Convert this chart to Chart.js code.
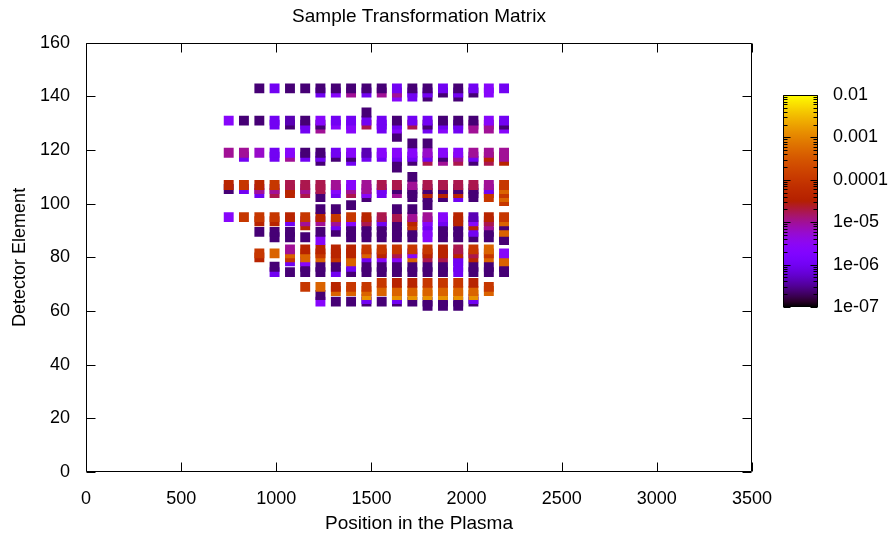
<!DOCTYPE html>
<html>
<head>
<meta charset="utf-8">
<script src="https://cdn.jsdelivr.net/npm/chart.js@4.4.1/dist/chart.umd.min.js"></script>
<style>
  html, body { margin: 0; padding: 0; background: #fff; }
  #wrap { position: relative; width: 894px; height: 538px; }
  #chart { position: absolute; left: 0; top: 0; }
  #cbar { position: absolute; left: 783px; top: 68px; }
</style>
</head>
<body>
<div id="wrap">
  <canvas id="chart" width="894" height="538"></canvas>
  <canvas id="cbar" width="111" height="266"></canvas>
</div>
<script>
// positions in the plasma (one column of detector samples each)
const colX = [750, 830, 911, 991, 1072, 1152, 1232, 1313, 1393, 1474, 1554, 1634, 1715, 1795, 1876, 1956, 2036, 2117, 2197];

// matrix values, one array per detector element row (null = no sample)
const n = null;
const r143   = [n, n, 2.4e-7, 1e-6, 2.4e-7, 2.4e-7, 2.4e-7, 2.4e-7, 2.4e-7, 2.4e-7, 2.4e-7, 1e-6, 2.4e-7, 2.4e-7, 1e-6, 2.4e-7, 1e-6, 2.5e-6, 1e-6];
const r141_5 = [n, n, n, n, n, n, 1e-6, 2.5e-6, 1e-5, 1e-6, 1e-5, 1e-5, 1e-6, 1e-6, 2.4e-7, 1e-6, 2.4e-7, 2.5e-6, n];
const r140   = [n, n, n, n, n, n, n, n, n, n, n, 2.5e-6, 1e-6, 2.4e-7, n, 2.4e-7, n, n, n];

const r134   = [n, n, n, n, n, n, n, n, n, 2.4e-7, n, n, n, n, n, n, n, n, n];
const r131   = [2.5e-6, 2.4e-7, 2.4e-7, 1e-6, 4.2e-7, 2.4e-7, 2.5e-6, 1e-6, 1e-6, 1e-6, 1e-6, 2.4e-7, 1e-6, 1e-6, 2.4e-7, 2.4e-7, 2.4e-7, 2.5e-6, 1e-6];
const r129_5 = [n, n, n, 1e-6, 2.4e-7, 1e-6, 2.4e-7, 2.5e-6, 2.5e-6, 1.8e-5, 1e-6, 1e-6, 1.8e-5, 2.4e-7, 1e-6, 1e-6, 1e-5, 1e-5, 2.4e-7];
const r128   = [n, n, n, n, n, 1e-6, 1e-5, n, 2.5e-6, n, 1e-6, 2.5e-6, n, 1e-6, 2.5e-6, 1e-6, 1e-5, 1e-5, 2.5e-6];
const r125   = [n, n, n, n, n, n, n, n, n, n, n, 2.4e-7, n, n, n, n, n, n, n];
const r122_5 = [n, n, n, n, n, n, n, n, n, n, n, n, 2.4e-7, 2.4e-7, n, n, n, n, n];

const r119   = [1e-5, 1e-5, 6e-6, 1e-6, 2.5e-6, 2.4e-7, 2.4e-7, 1e-6, 2.5e-6, 4.2e-7, 2.5e-6, 2.5e-6, 2.5e-6, 6e-6, 2.5e-6, 2.5e-6, 1e-5, 1e-5, 1e-5];
const r117_5 = [n, 1e-6, n, 1e-6, 1e-5, 1e-6, 1e-6, 2.4e-7, 2.4e-7, 1e-6, 1e-6, 1e-6, 1e-6, 1e-6, 2.4e-7, 1e-5, 1e-6, 4e-5, 1e-5];
const r116   = [n, n, n, n, n, n, 2.4e-7, n, 1e-6, n, n, 2.4e-7, 2.4e-7, 1.8e-5, 1e-5, 1.8e-5, 2.4e-7, 1.8e-5, 4e-5];
const r113_5 = [n, n, n, n, n, n, n, n, n, n, n, 2.4e-7, n, n, n, n, n, n, n];
const r110   = [n, n, n, n, n, n, n, n, n, n, n, n, 2.4e-7, n, n, n, n, n, n];

const r107   = [4e-5, 1e-4, 4e-5, 1e-4, 1.8e-5, 1.8e-5, 1.8e-5, 1e-5, 2.5e-6, 1e-5, 1.8e-5, 1.8e-5, 1e-5, 1.8e-5, 1.8e-5, 1.8e-5, 1.8e-5, 1e-5, 1e-4];
const r105_5 = [2.4e-7, 1e-6, 1e-5, 1e-5, 4e-5, 1e-5, 1.8e-5, 2.5e-6, 1e-5, 1e-5, 1e-6, 2.4e-7, 2.4e-7, 2.4e-7, 2.4e-7, 2.4e-7, 2.4e-7, 1e-6, 4.5e-4];
const r104   = [n, n, 1e-6, 1.8e-5, 4e-5, 1.8e-5, n, 1e-6, 1.8e-5, 2.5e-6, 1e-6, 1e-5, 2.4e-7, 4e-5, 4e-5, 4e-5, 2.4e-7, 1e-4, 1e-4];
const r102_5 = [n, n, n, n, n, n, 2.4e-7, n, n, 2.4e-7, n, n, 2.4e-7, 2.4e-7, 2.4e-7, 1e-6, 2.4e-7, 1e-4, 4.5e-4];
const r101   = [n, n, n, n, n, n, n, n, n, n, n, n, n, n, n, n, n, n, 1e-4];
const r99_5  = [n, n, n, n, n, n, n, n, 2.4e-7, n, n, n, n, 2.4e-7, n, n, n, n, n];
const r98    = [n, n, n, n, n, n, 2.4e-7, 2.4e-7, n, n, n, 2.4e-7, 2.4e-7, n, n, n, n, n, n];

const r95    = [2.5e-6, 1e-4, 1e-4, 1e-4, 4e-5, 1e-4, 4e-5, 1e-4, 1e-4, 4e-5, 1.8e-5, 1.8e-5, 1e-5, 1e-5, 2.5e-6, 4e-5, 4.2e-7, 4e-5, 1e-4];
const r93_5  = [n, n, 4e-5, 4e-5, 1e-6, 1e-5, 1e-5, 1e-5, 2.5e-6, 1.8e-5, 1e-6, 2.4e-7, 4e-5, 2.5e-6, 1e-6, 4e-5, 2.5e-6, 1.8e-5, 4.5e-4];
const r92    = [n, n, n, n, n, 4e-5, n, 1e-6, 2.4e-7, 2.4e-7, 2.4e-7, 2.4e-7, 1e-4, 1e-6, 2.4e-7, 2.4e-7, 4e-5, 1e-5, 2.4e-7];
const r89_5  = [n, n, 2.4e-7, 2.4e-7, 2.4e-7, n, 2.4e-7, 2.4e-7, 2.4e-7, 2.4e-7, 2.4e-7, 2.4e-7, 2.4e-7, 2.5e-6, 2.4e-7, 2.4e-7, 1e-6, 2.4e-7, 4.5e-4];
const r87_5  = [n, n, n, 2.4e-7, 2.4e-7, 2.4e-7, n, n, 2.4e-7, 2.4e-7, 2.4e-7, 2.4e-7, 2.4e-7, 2.5e-6, 2.4e-7, 2.4e-7, 2.4e-7, 2.4e-7, 2.4e-7];
const r86_5  = [n, n, n, n, n, n, 2.5e-6, n, n, n, n, n, n, n, n, n, n, n, 2.4e-7];

const r83    = [n, n, n, n, 1e-5, 4e-5, 4e-5, 4e-5, 4e-5, 1e-4, 1e-4, 1e-4, 1e-4, 1e-4, 4e-5, 1.8e-5, 1e-4, 4.5e-4, n];
const r81_5  = [n, n, 1e-4, 4.5e-4, 4.5e-4, 4.5e-4, 1e-4, 4e-5, 4e-5, 4.5e-4, 4e-5, 1.8e-5, 2.5e-6, 4e-5, 4e-5, 4e-5, 1.8e-5, 1e-4, 2.5e-6];
const r80    = [n, n, 4e-5, n, 1e-4, 4.5e-4, 4.5e-4, 1e-4, 4.5e-4, 1e-6, 2.5e-6, 2.5e-6, 4.5e-4, 1.8e-5, 1.8e-5, 1e-6, 4e-5, 4.5e-4, 4.5e-4];
const r78_5  = [n, n, n, n, 1e-6, 2.5e-6, n, 2.4e-7, 4.5e-4, n, n, n, n, n, n, 1e-6, n, n, 4.5e-4];
const r76_5  = [n, n, n, 2.4e-7, n, 2.4e-7, 2.4e-7, 2.4e-7, 1e-6, 2.4e-7, 2.4e-7, 2.4e-7, 2.4e-7, 2.4e-7, 2.4e-7, 1e-6, 2.4e-7, 2.4e-7, 2.4e-7];
const r74_5  = [n, n, n, 1e-6, 2.4e-7, 2.4e-7, 2.4e-7, 1e-6, 2.4e-7, 2.4e-7, 2.4e-7, 2.4e-7, 2.4e-7, 2.4e-7, 2.4e-7, 1e-6, 2.4e-7, 2.4e-7, 2.4e-7];

const r70_5  = [n, n, n, n, n, n, n, n, n, n, 1e-4, 4e-5, 4e-5, 1e-4, 1e-4, 1e-4, 4e-5, n, n];
const r69    = [n, n, n, n, n, 1e-4, 4.5e-4, 4e-5, 1e-4, 1e-4, n, n, n, n, n, n, n, 1e-4, n];
const r67_5  = [n, n, n, n, n, n, n, 4.5e-4, 4.5e-4, 4.5e-4, 4.5e-4, 4.5e-4, 4.5e-4, 4.5e-4, 4.5e-4, 4.5e-4, 4.5e-4, 4.5e-4, n];
const r66    = [n, n, n, n, n, n, 2.4e-7, n, n, 1.4e-3, n, 1.4e-3, 1.4e-3, 1.4e-3, 1.4e-3, 1.4e-3, 1.4e-3, n, n];
const r64_5  = [n, n, n, n, n, n, n, n, n, 1e-6, n, 1e-6, n, n, n, n, 1e-6, n, n];
const r63_5  = [n, n, n, n, n, n, 2.5e-6, 2.4e-7, 2.4e-7, 2.4e-7, 2.4e-7, 2.4e-7, 2.4e-7, 2.4e-7, 2.4e-7, 2.4e-7, 2.4e-7, n, n];
const r62    = [n, n, n, n, n, n, n, n, n, n, n, n, n, 2.4e-7, 2.4e-7, 2.4e-7, n, n, n];

// detector element of each row, in drawing order (later rows cover earlier ones)
const rowY = [62, 63.5, 64.5, 66, 67.5, 69, 70.5, 74.5, 76.5, 78.5, 80, 81.5, 83,
  86.5, 87.5, 89.5, 92, 93.5, 95, 98, 99.5, 101, 102.5, 104, 105.5, 107,
  110, 113.5, 116, 117.5, 119, 122.5, 125, 128, 129.5, 131, 134, 140, 141.5, 143];
const rowVals = [r62, r63_5, r64_5, r66, r67_5, r69, r70_5, r74_5, r76_5, r78_5, r80, r81_5, r83,
  r86_5, r87_5, r89_5, r92, r93_5, r95, r98, r99_5, r101, r102_5, r104, r105_5, r107,
  r110, r113_5, r116, r117_5, r119, r122_5, r125, r128, r129_5, r131, r134, r140, r141_5, r143];

const xTicks = [0, 500, 1000, 1500, 2000, 2500, 3000, 3500];
const yTicks = [0, 20, 40, 60, 80, 100, 120, 140, 160];
const cbMin = 1e-7, cbMax = 1e-2;
const cbTicks = [1e-7, 1e-6, 1e-5, 1e-4, 1e-3, 1e-2];
const cbLabels = ['1e-07', '1e-06', '1e-05', '0.0001', '0.001', '0.01'];

const FONT = '"Liberation Sans", Arial, sans-serif';

// gnuplot default pm3d palette (rgbformulae 7,5,15)
function paletteT(t) {
  t = Math.min(1, Math.max(0, t));
  const r = Math.sqrt(t), g = t * t * t, b = Math.max(0, Math.sin(2 * Math.PI * t));
  return `rgb(${Math.round(r * 255)},${Math.round(g * 255)},${Math.round(b * 255)})`;
}
function palette(v) {
  return paletteT((Math.log10(v) - Math.log10(cbMin)) / (Math.log10(cbMax) - Math.log10(cbMin)));
}

const points = [];
rowVals.forEach((vals, i) => {
  vals.forEach((v, k) => {
    if (v !== null) points.push({ x: colX[k], y: rowY[i], v: v });
  });
});

const framePlugin = {
  id: 'frame',
  afterDraw(chart) {
    const { ctx, chartArea: a, scales } = chart;
    const L = Math.round(a.left) + 0.5, R = Math.round(a.right) - 0.5;
    const T = Math.round(a.top) + 0.5, B = Math.round(a.bottom) - 0.5;
    ctx.save();
    ctx.strokeStyle = '#000';
    ctx.lineWidth = 1;
    ctx.beginPath();
    ctx.rect(L, T, R - L, B - T);
    xTicks.forEach(v => {
      const px = Math.round(scales.x.getPixelForValue(v)) + 0.5;
      ctx.moveTo(px, B); ctx.lineTo(px, B - 9);
      ctx.moveTo(px, T); ctx.lineTo(px, T + 9);
    });
    yTicks.forEach(v => {
      const py = Math.round(scales.y.getPixelForValue(v)) + 0.5;
      ctx.moveTo(L, py); ctx.lineTo(L + 9, py);
      ctx.moveTo(R, py); ctx.lineTo(R - 9, py);
    });
    ctx.stroke();
    ctx.restore();
  }
};

new Chart(document.getElementById('chart'), {
  type: 'scatter',
  data: {
    datasets: [{
      data: points,
      pointStyle: 'rect',
      pointRadius: 7,
      borderWidth: 0,
      backgroundColor: c => (c.raw ? palette(c.raw.v) : '#000')
    }]
  },
  options: {
    responsive: false,
    animation: false,
    events: [],
    layout: { padding: { left: 0, right: 142, top: 0, bottom: 0 } },
    plugins: {
      legend: { display: false },
      tooltip: { enabled: false },
      title: {
        display: true,
        fullSize: false,
        text: 'Sample Transformation Matrix',
        color: '#000',
        font: { family: FONT, size: 19, weight: 'normal' },
        padding: { top: 5, bottom: 15 }
      }
    },
    scales: {
      x: {
        type: 'linear', min: 0, max: 3500,
        afterBuildTicks: s => { s.ticks = xTicks.map(v => ({ value: v })); },
        afterFit: s => { s.height = 66; },
        grid: { display: false, drawTicks: false }, border: { display: false },
        ticks: { color: '#000', padding: 16, maxRotation: 0, font: { family: FONT, size: 18 }, callback: v => String(v) },
        title: { display: true, text: 'Position in the Plasma', color: '#000', padding: { top: 0, bottom: 3 }, font: { family: FONT, size: 19 } }
      },
      y: {
        type: 'linear', min: 0, max: 160,
        afterBuildTicks: s => { s.ticks = yTicks.map(v => ({ value: v })); },
        afterFit: s => { s.width = 86; },
        grid: { display: false, drawTicks: false }, border: { display: false },
        ticks: { color: '#000', padding: 16, font: { family: FONT, size: 18 }, callback: v => String(v) },
        title: { display: true, text: 'Detector Element', color: '#000', padding: { top: 9, bottom: 0 }, font: { family: FONT, size: 18 } }
      }
    }
  },
  plugins: [framePlugin]
});

// colour box
const cbFrame = {
  id: 'cbFrame',
  afterDraw(chart) {
    const { ctx, chartArea: a, scales } = chart;
    const L = Math.round(a.left) + 0.5, R = Math.round(a.right) - 0.5;
    const T = Math.round(a.top) + 0.5, B = Math.round(a.bottom) - 0.5;
    ctx.save();
    ctx.strokeStyle = '#000';
    ctx.lineWidth = 1;
    ctx.beginPath();
    ctx.rect(L, T, R - L, B - T);
    cbTicks.forEach((v, i) => {
      const py = Math.round(scales.y.getPixelForValue(v)) + 0.5;
      ctx.moveTo(L, py); ctx.lineTo(L + 7, py);
      ctx.moveTo(R, py); ctx.lineTo(R - 7, py);
      if (i < cbTicks.length - 1) {
        for (let m = 2; m <= 9; m++) {
          const pm = Math.round(scales.y.getPixelForValue(v * m)) + 0.5;
          ctx.moveTo(L, pm); ctx.lineTo(L + 4, pm);
          ctx.moveTo(R, pm); ctx.lineTo(R - 4, pm);
        }
      }
    });
    ctx.stroke();
    ctx.restore();
  }
};

new Chart(document.getElementById('cbar'), {
  type: 'bar',
  data: {
    labels: [''],
    datasets: [{
      data: [[cbMin, cbMax]],
      borderWidth: 0,
      barPercentage: 1,
      categoryPercentage: 1,
      backgroundColor: c => {
        const a = c.chart.chartArea;
        if (!a) return '#888';
        const g = c.chart.ctx.createLinearGradient(0, a.bottom, 0, a.top);
        for (let i = 0; i <= 40; i++) g.addColorStop(i / 40, paletteT(i / 40));
        return g;
      }
    }]
  },
  options: {
    responsive: false,
    animation: false,
    events: [],
    layout: { padding: { left: 0, right: 0, top: 27, bottom: 27 } },
    plugins: { legend: { display: false }, tooltip: { enabled: false } },
    scales: {
      x: { display: false },
      y: {
        type: 'logarithmic', position: 'right', min: cbMin, max: cbMax,
        afterBuildTicks: s => { s.ticks = cbTicks.map(v => ({ value: v })); },
        afterFit: s => { s.width = 76; },
        grid: { display: false, drawTicks: false }, border: { display: false },
        ticks: {
          color: '#000', padding: 15, autoSkip: false,
          font: { family: FONT, size: 18 },
          callback: (v, i) => cbLabels[i]
        }
      }
    }
  },
  plugins: [cbFrame]
});
</script>
</body>
</html>
